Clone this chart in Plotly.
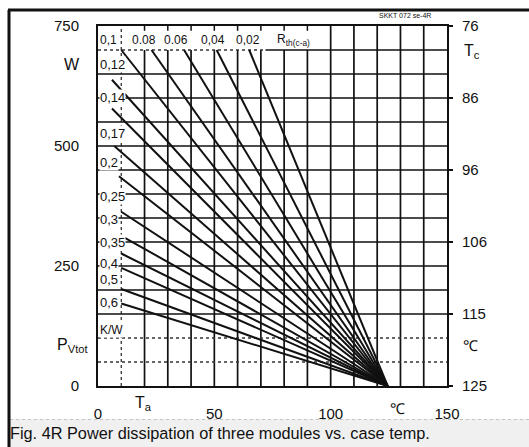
import plotly.graph_objects as go

# Case-to-ambient thermal resistance of each curve, K/W
r_th_ca = [0.02, 0.04, 0.06, 0.08, 0.1, 0.12, 0.14, 0.17, 0.2, 0.25, 0.3, 0.35, 0.4, 0.5, 0.6]
# Start point of each curve: ambient temperature (°C) and total power (W)
start_ta = [65, 51, 37, 23, 10, 6, 6, 7, 9, 10, 10, 10, 10, 10, 10]
start_p = [700, 700, 700, 700, 700, 638, 578, 500, 437, 363, 313, 276, 246, 202, 172]
# All curves run down to zero power at the same ambient temperature
end_ta = 124.5
end_p = 0

# Axis ticks
ta_ticks = [0, 50, 100, 150]
p_ticks = [0, 250, 500, 750]
tc_tick_p = [750, 600, 450, 300, 150, 0]
tc_tick_text = ["76", "86", "96", "106", "115", "125"]

# Grid positions
grid_ta = [10, 20, 30, 40, 50, 60, 70, 80, 90, 100, 110, 120, 130, 140]
grid_p = [50, 100, 150, 200, 250, 300, 350, 400, 450, 500, 550, 600, 650, 700]
dotted_p = [50, 100]

# Curve labels: top strip (Ta, P) and left column (P)
strip_text = ["0,1", "0.08", "0.06", "0,04", "0,02"]
strip_ta = [4.3, 19.8, 33.5, 49.4, 64.5]
strip_p = 721
left_text = ["0,12", "0,14", "0,17", "0,2", "0,25", "0,3", "0,35", "0,4", "0,5", "0,6", "K/W"]
left_p = [669, 602, 527, 465, 394, 346, 300, 256, 221, 175, 117]

FONT = "Liberation Sans, Arial, sans-serif"
INK = "#111111"
W, H = 529, 447
ML, MR, MT, MB = 98, 82, 26, 61
PW, PH = W - ML - MR, H - MT - MB


def xp(px):
    return (px - ML) / PW


def yp(py):
    return (H - MB - py) / PH


fig = go.Figure()

for r, ta0, p0 in zip(r_th_ca, start_ta, start_p):
    fig.add_trace(go.Scatter(
        x=[ta0, end_ta], y=[p0, end_p], mode="lines",
        line=dict(color=INK, width=2), name=f"{r} K/W",
        showlegend=False, hoverinfo="skip"))

# invisible trace carrying the case temperature axis
fig.add_trace(go.Scatter(x=[0], y=[0], yaxis="y2", mode="markers",
                         marker=dict(opacity=0), showlegend=False, hoverinfo="skip"))

shapes = []
# vertical grid
for t in grid_ta:
    if t == 10:
        shapes.append(dict(type="line", xref="x", yref="y", x0=t, x1=t, y0=0, y1=750,
                           line=dict(color="#333", width=1.3, dash="dot"), layer="below"))
    else:
        top = 750 if t >= 100 else 700
        shapes.append(dict(type="line", xref="x", yref="y", x0=t, x1=t, y0=0, y1=top,
                           line=dict(color=INK, width=1.7), layer="below"))
        if t < 100:
            shapes.append(dict(type="line", xref="x", yref="y", x0=t, x1=t, y0=740, y1=750,
                               line=dict(color=INK, width=1.5), layer="below"))
# horizontal grid
for p in grid_p:
    if p == 700:
        shapes.append(dict(type="line", xref="x", yref="y", x0=0, x1=72, y0=p, y1=p,
                           line=dict(color="#333", width=1.3, dash="dot"), layer="below"))
        shapes.append(dict(type="line", xref="x", yref="y", x0=72, x1=150, y0=p, y1=p,
                           line=dict(color=INK, width=1.7), layer="below"))
    elif p in dotted_p:
        shapes.append(dict(type="line", xref="x", yref="y", x0=0, x1=150, y0=p, y1=p,
                           line=dict(color="#333", width=1.3, dash="dot"), layer="below"))
    else:
        shapes.append(dict(type="line", xref="x", yref="y", x0=0, x1=150, y0=p, y1=p,
                           line=dict(color=INK, width=1.7), layer="below"))

# caption band and outer frame
shapes.append(dict(type="rect", xref="paper", yref="paper", x0=xp(10), x1=xp(W), y0=yp(H), y1=yp(419),
                   fillcolor="#f0f0f0", line=dict(width=0), layer="below"))
shapes.append(dict(type="line", xref="paper", yref="paper", x0=xp(10), x1=xp(W), y0=yp(419.5), y1=yp(419.5),
                   line=dict(color="#c4c4c4", width=1, dash="dot")))
shapes.append(dict(type="line", xref="paper", yref="paper", x0=xp(8), x1=xp(W), y0=yp(10), y1=yp(10),
                   line=dict(color=INK, width=3)))
shapes.append(dict(type="line", xref="paper", yref="paper", x0=xp(9), x1=xp(9), y0=yp(10), y1=yp(H),
                   line=dict(color=INK, width=3)))

ann = []


def text(x, y, s, size=15, xanchor="center", ref="paper", bg=None):
    d = dict(x=x, y=y, text=s, showarrow=False, xanchor=xanchor, yanchor="middle",
             font=dict(family=FONT, size=size, color=INK), xref=ref, yref=ref)
    if ref != "paper":
        d["xref"], d["yref"] = "x", "y"
    if bg:
        d["bgcolor"] = bg
        d["borderpad"] = 0
    return d


for s, t in zip(strip_text, strip_ta):
    ann.append(text(t, strip_p, s, size=12, ref="data", bg="white"))
ann.append(text(84, strip_p, "R<sub>th(c-a)</sub>", size=12, ref="data", bg="white"))
for s, p in zip(left_text, left_p):
    ann.append(text(0.5, p, s, size=13 if s != "K/W" else 12, xanchor="left", ref="data", bg="white"))

ann.append(text(xp(72), yp(65), "W", size=16))
ann.append(text(xp(72), yp(345), "P<sub>Vtot</sub>", size=16))
ann.append(text(xp(472), yp(52), "T<sub>c</sub>", size=16))
ann.append(text(xp(470), yp(345), "℃", size=15))
ann.append(text(xp(143), yp(403), "T<sub>a</sub>", size=16))
ann.append(text(xp(397), yp(408), "℃", size=15))
ann.append(text(xp(405), yp(15), "SKKT 072 se-4R", size=7))
ann.append(text(xp(8), yp(433), "Fig. 4R Power dissipation of three modules vs. case temp.",
                size=16.3, xanchor="left"))

axis_common = dict(showgrid=False, zeroline=False, showline=True, linecolor=INK, linewidth=2,
                   tickfont=dict(family=FONT, size=15, color=INK))

fig.update_layout(
    width=W, height=H, autosize=False,
    margin=dict(l=ML, r=MR, t=MT, b=MB, pad=0),
    paper_bgcolor="white", plot_bgcolor="white",
    showlegend=False,
    xaxis=dict(range=[0, 150], tickvals=ta_ticks, ticks="", mirror=True,
               ticklabelstandoff=13, **axis_common),
    yaxis=dict(range=[0, 750], tickvals=p_ticks, ticks="", mirror=True,
               ticklabelstandoff=14, **axis_common),
    yaxis2=dict(range=[0, 750], overlaying="y", side="right", tickvals=tc_tick_p,
                ticktext=tc_tick_text, ticks="outside", ticklen=5, tickcolor=INK, tickwidth=1.5,
                showgrid=False, zeroline=False, showline=False,
                ticklabelstandoff=6, tickfont=dict(family=FONT, size=15, color=INK)),
    shapes=shapes,
    annotations=ann,
)

fig.write_html("out.html")
